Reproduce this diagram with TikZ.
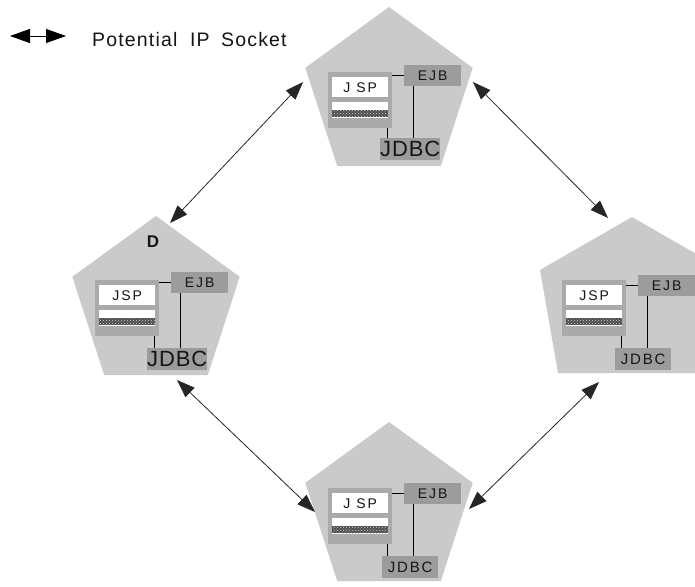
\documentclass[tikz,border=0pt]{standalone}
\usepackage{fontspec}
\setmainfont{Liberation Sans}
\newfontfamily\spacedA[LetterSpace=14]{Liberation Sans}
\newfontfamily\spacedB[LetterSpace=4]{Liberation Sans}
\newfontfamily\spacedC[LetterSpace=12]{Liberation Sans}
\newfontfamily\spacedL[LetterSpace=6]{Liberation Sans}
\usetikzlibrary{arrows.meta,shapes.geometric,patterns,calc}
\definecolor{pentgray}{HTML}{CACACA}
\definecolor{framegray}{HTML}{AAAAAA}
\definecolor{boxgray}{HTML}{9C9C9C}
\definecolor{inkgray}{HTML}{151515}
\tikzset{
  pent/.style={regular polygon, regular polygon sides=5, minimum size=176pt,
    inner sep=0pt, fill=pentgray, draw=none},
  jspframe/.style={fill=framegray, minimum width=64pt, minimum height=56pt, inner sep=0pt, draw=none},
  whitebox/.style={fill=white, minimum width=56pt, inner sep=0pt, draw=none},
  hatchbox/.style={preaction={fill=black!70}, pattern=crosshatch dots, pattern color=white!85!black,
    minimum width=56pt, minimum height=7pt, inner sep=0pt},
  graybox/.style={fill=boxgray, inner sep=0pt, draw=none, text=inkgray},
  wire/.style={draw=black, line width=0.9pt},
  socket/.style={draw=black!85, line width=0.8pt,
    {Triangle[length=18pt,width=13pt]}-{Triangle[length=18pt,width=13pt]}},
}
% #1 prefix, #2 fx, #3 fy, #4 ejb dy, #5 jdbc dx, #6 jdbc dy, #7 jsp text, #8 jdbc font
\newcommand\srvblock[8]{%
  \node[jspframe, anchor=north west] (#1-frame) at (#2,#3) {};
  \node[whitebox, minimum height=20pt, anchor=north west, text=inkgray,
    font=\spacedA\fontsize{14}{14}\selectfont] (#1-jsp) at ($(#1-frame.north west)+(4,5)$) {#7};
  \node[whitebox, minimum height=16pt, anchor=north west] (#1-low) at ($(#1-frame.north west)+(4,30)$) {};
  \node[hatchbox, anchor=north west] (#1-hatch) at ($(#1-frame.north west)+(4,38)$) {};
  \node[graybox, minimum width=57pt, minimum height=21pt, anchor=north west,
    font=\spacedA\fontsize{14}{14}\selectfont] (#1-ejb) at ($(#1-frame.north west)+(76,#4)$) {EJB};
  \node[graybox, minimum width=56pt, minimum height=22pt, anchor=north west,
    font=#8] (#1-jdbc) at ($(#1-frame.north west)+(#5,#6)$) {JDBC};
  \draw[wire] (#1-ejb.west) -- (#1-ejb.west -| #1-frame.east);
  \draw[wire] ([xshift=9pt]#1-ejb.south west) -- ([xshift=9pt]#1-ejb.south west |- #1-jdbc.north);
  \draw[wire] ([xshift=-5pt]#1-frame.south east) -- ([xshift=-5pt]#1-frame.south east |- #1-jdbc.north);
}
\begin{document}
\begin{tikzpicture}[x=1pt,y=-1pt]
\useasboundingbox (0,0) rectangle (695,586);
\fill[white] (0,0) rectangle (695,586);
\begin{scope}
\clip (0,0) rectangle (695,586);

% legend
\coordinate (lgL) at (10,36);
\coordinate (lgR) at (66,36);
\draw[draw=black, line width=0.8pt,
  {Triangle[length=20pt,width=14pt]}-{Triangle[length=20pt,width=14pt]}] (lgL) -- (lgR);
\node[anchor=base west, inner sep=0pt, font=\spacedL\fontsize{19.5}{20}\selectfont, text=inkgray]
  (legend) at (92,47) {Potential\hspace{6pt} IP\hspace{5pt} Socket};

% pentagons
\node[pent] (top) at (389,95) {};
\node[pent] (dnode) at (156,304) {};
\node[pent] (bottom) at (389,510) {};
\coordinate (right) at (632,305);
\fill[pentgray] (632,217) -- (724,270) -- (706,373) -- (558,373) -- (540,270) -- cycle;

% label D
\node[font=\bfseries\fontsize{17}{17}\selectfont, inner sep=0pt, text=inkgray] (dlabel) at (153,242) {D};

% server blocks
\srvblock{t}{328}{72}{-7}{52}{66}{J SP}{\spacedB\fontsize{22}{22}\selectfont}
\srvblock{d}{95}{280}{-8}{52}{68}{JSP}{\spacedB\fontsize{22}{22}\selectfont}
\srvblock{r}{562}{280}{-5}{53}{68}{JSP}{\spacedC\fontsize{15}{15}\selectfont}
\srvblock{b}{328}{488}{-5}{54}{68}{J SP}{\spacedC\fontsize{15}{15}\selectfont}

% socket arrows
\coordinate (top-sw) at (303,82);
\coordinate (d-ne) at (170,223);
\coordinate (top-se) at (473,82);
\coordinate (r-nw) at (608,218);
\coordinate (d-se) at (177,380);
\coordinate (b-nw) at (315,512);
\coordinate (r-sw) at (599,382);
\coordinate (b-ne) at (469,509);
\draw[socket] (top-sw) -- (d-ne);
\draw[socket] (top-se) -- (r-nw);
\draw[socket] (d-se) -- (b-nw);
\draw[socket] (r-sw) -- (b-ne);
\end{scope}
\end{tikzpicture}
\end{document}
